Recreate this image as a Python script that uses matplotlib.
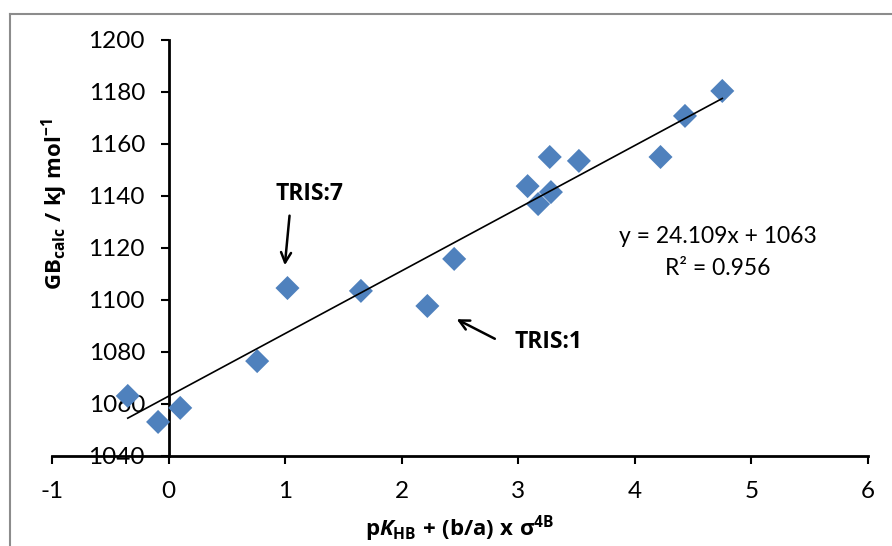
import matplotlib.pyplot as plt
import numpy as np
from matplotlib.lines import Line2D

plt.rcParams['font.family'] = ['Lato', 'DejaVu Sans']
plt.rcParams['mathtext.fontset'] = 'custom'
plt.rcParams['mathtext.rm'] = 'Open Sans'
plt.rcParams['mathtext.bf'] = 'Open Sans:bold'
plt.rcParams['mathtext.it'] = 'Open Sans:italic'
plt.rcParams['mathtext.bfit'] = 'Open Sans:italic:bold'
plt.rcParams['mathtext.fallback'] = 'stixsans'

x_vals = [-0.35, -0.09, 0.10, 0.76, 1.02, 1.65, 2.22, 2.45, 3.08,
          3.17, 3.27, 3.28, 3.52, 4.22, 4.43, 4.75]
y_vals = [1063.1, 1053.1, 1058.5, 1076.5, 1104.6, 1103.5, 1097.7, 1115.8, 1143.8,
          1136.9, 1155.0, 1141.5, 1153.5, 1155.0, 1170.8, 1180.4]
slope = 24.109
intercept = 1063
r2 = 0.956
x_ticks = [-1, 0, 1, 2, 3, 4, 5, 6]
y_ticks = [1040, 1060, 1080, 1100, 1120, 1140, 1160, 1180, 1200]

fig = plt.figure(figsize=(8.92, 5.46), dpi=100)
ax = fig.add_axes([52 / 892, 90 / 546, 816 / 892, 416 / 546])

ax.scatter(x_vals, y_vals, marker='D', s=150, color='#4F81BD', zorder=3,
           edgecolors='none')
fit_x = np.array([min(x_vals), max(x_vals)])
ax.plot(fit_x, slope * fit_x + intercept, color='black', lw=1.2, zorder=4)

ax.set_xlim(-1, 6)
ax.set_ylim(1040, 1200)
ax.set_xticks(x_ticks)
ax.set_yticks(y_ticks)
ax.set_xticklabels([str(t) for t in x_ticks])

ax.spines['left'].set_position(('data', 0))
ax.spines['right'].set_visible(False)
ax.spines['top'].set_visible(False)
for s in ['left', 'bottom']:
    ax.spines[s].set_linewidth(2)
ax.tick_params(axis='both', direction='out', length=6, width=1.5, labelsize=17.5)
ax.tick_params(axis='y', pad=11)
ax.tick_params(axis='x', pad=12)

ax.set_xlabel(r'$\mathbf{p}\mathbfit{K}_\mathbf{HB}\mathbf{\ {+}\ (b/a)\ x\ }\mathbf{\sigma}^\mathbf{4B}$',
              fontsize=16, labelpad=8)
fig.text(55 / 892, 1 - 204 / 546,
         r'$\mathbf{GB}_\mathbf{calc}\mathbf{\ /\ kJ\ mol}^\mathbf{-1}$',
         rotation=90, ha='center', va='center', fontsize=16)

ax.text(4.71, 1124.6, 'y = 24.109x + 1063', ha='center', va='center', fontsize=16.5)
ax.text(4.71, 1112.3, 'R² = 0.956', ha='center', va='center', fontsize=16.5)

ax.text(1.21, 1136, 'TRIS:7', ha='center', va='bottom', fontsize=16.5,
        fontweight='bold', family='Open Sans')
ax.annotate('', xy=(0.995, 1112.3), xytext=(1.04, 1133.5),
            arrowprops=dict(arrowstyle='->', lw=1.8, color='black', mutation_scale=18))
ax.text(2.97, 1083.8, 'TRIS:1', ha='left', va='center', fontsize=16.5,
        fontweight='bold', family='Open Sans')
ax.annotate('', xy=(2.45, 1093.1), xytext=(2.82, 1084.6),
            arrowprops=dict(arrowstyle='->', lw=1.8, color='black', mutation_scale=18))

# chart area border (left and top edges visible)
fig.add_artist(Line2D([10 / 892, 10 / 892], [0, 1 - 14 / 546], color='#8c8c8c', lw=1.5))
fig.add_artist(Line2D([10 / 892, 1], [1 - 14 / 546, 1 - 14 / 546], color='#8c8c8c', lw=1.5))

fig.savefig('out.png', dpi=100)
